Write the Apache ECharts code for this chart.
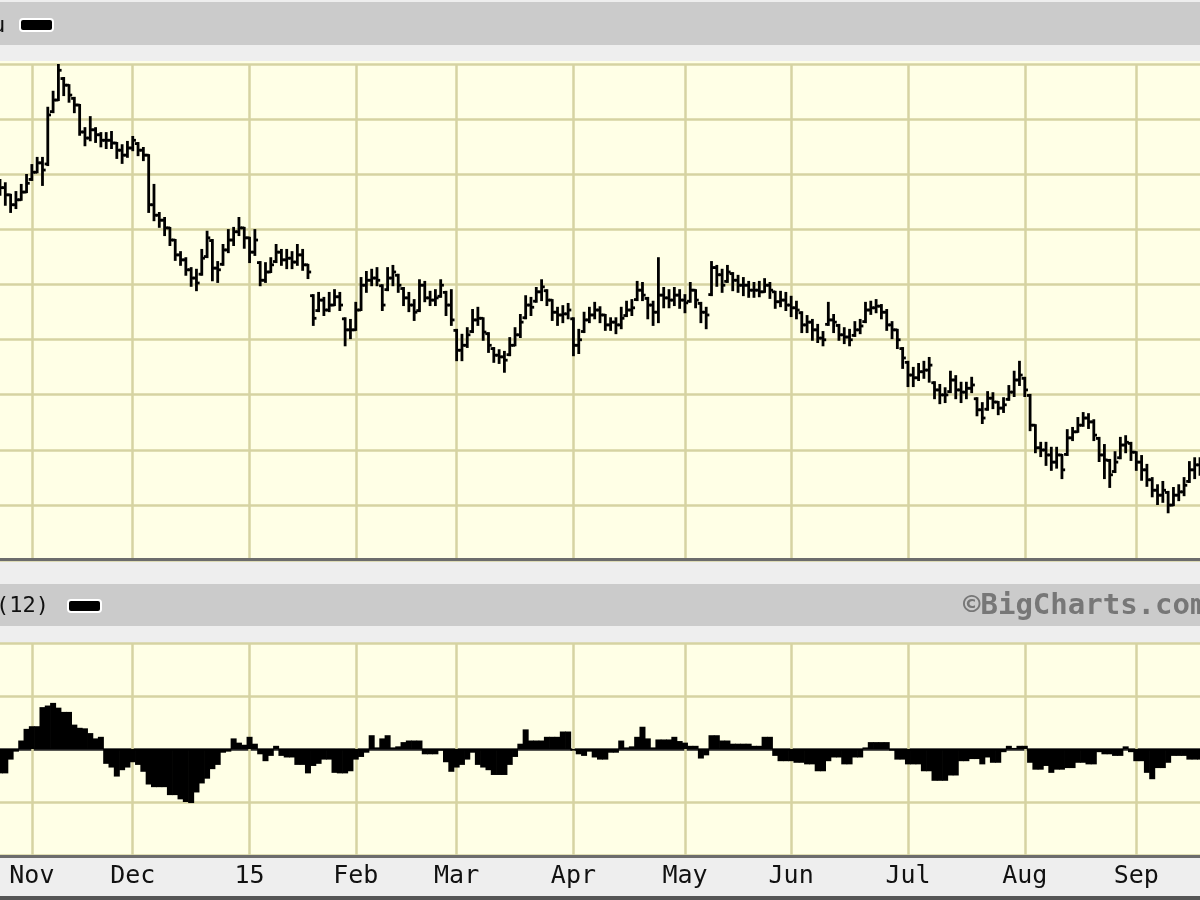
<!DOCTYPE html>
<html>
<head>
<meta charset="utf-8">
<script src="https://cdn.jsdelivr.net/npm/echarts@6/dist/echarts.min.js"></script>
<style>
html,body{margin:0;padding:0;background:#EEEEEE;}
#chart{width:1200px;height:900px;}
</style>
</head>
<body>
<div id="chart"></div>
<script>
// ---- categories: trading days (NYSE) starting 2014-10-24 ----
const firstDay = '2014-10-24';
const dayCount = 227;
const holidays = ['2014-11-27','2014-12-25','2015-01-01','2015-01-19','2015-02-16',
                  '2015-04-03','2015-05-25','2015-07-03','2015-09-07'];
const tickLabels = ['Nov','Dec','15','Feb','Mar','Apr','May','Jun','Jul','Aug','Sep'];

// ---- price bars (arbitrary price units) ----
const openVals = [107.7,107.2,105.9,104.1,105.0,106.4,108.7,110.0,111.7,
111.5,121.0,123.1,127.0,125.8,123.4,122.2,117.3,116.2,117.7,
116.8,115.8,115.8,115.3,114.0,113.1,114.4,115.2,114.0,113.1,
104.1,102.2,101.3,99.9,97.7,95.0,94.1,92.3,90.8,91.5,
94.7,97.6,92.6,93.3,95.9,97.7,99.2,99.9,98.1,95.5,
93.6,90.4,91.9,93.8,95.5,94.1,94.4,93.7,95.0,93.2,
87.6,84.9,86.8,85.0,85.9,87.4,83.4,81.4,81.4,85.0,
89.5,90.4,90.8,89.4,88.7,90.8,91.3,88.9,87.2,85.9,
84.9,89.5,87.2,86.8,87.5,88.2,85.9,81.3,77.7,78.6,
81.1,83.2,83.5,80.7,78.0,76.8,76.5,76.9,78.6,80.5,
83.6,85.9,86.6,88.3,88.5,86.8,84.6,84.1,84.3,83.4,
78.6,81.1,83.2,84.1,85.0,84.1,82.3,82.8,82.3,84.0,
85.0,86.9,88.6,87.1,85.9,84.6,87.7,87.2,86.8,87.7,
86.8,86.6,88.6,86.2,84.6,87.8,92.7,91.4,90.2,91.6,
90.4,89.5,89.5,88.6,88.6,88.3,89.5,88.3,86.5,86.8,
85.9,85.4,84.5,82.3,82.8,81.4,79.9,82.4,83.2,82.2,
80.5,80.1,80.4,81.4,82.9,85.0,85.4,85.7,84.6,82.3,
81.4,78.0,75.5,73.2,72.7,73.8,74.1,71.8,70.5,69.6,
70.2,72.3,70.5,70.1,70.8,68.9,66.9,67.0,69.0,68.3,
67.2,68.8,70.1,72.3,72.6,69.5,64.1,60.0,59.6,58.7,
57.4,58.7,58.8,61.8,62.9,64.1,65.4,64.7,61.7,58.7,
57.7,55.7,58.2,60.5,60.8,59.2,57.4,56.0,54.2,52.3,
51.4,51.9,49.6,51.4,52.0,53.9,56.0,56.9];

const highVals = [108.6,108.0,105.9,106.4,107.7,109.5,111.3,112.6,112.6,
121.7,124.6,129.5,127.1,125.8,123.5,122.2,118.0,120.0,118.0,
117.1,117.1,117.3,115.3,114.9,115.5,116.4,115.3,114.4,113.1,
107.7,102.6,101.7,99.9,97.7,95.5,94.4,92.6,92.3,95.9,
99.2,97.7,93.7,96.8,99.5,99.9,101.7,99.9,98.1,99.5,
93.7,93.5,94.4,96.8,95.9,95.9,95.5,96.8,95.9,93.2,
87.7,88.1,87.2,88.1,88.6,88.1,83.5,83.2,86.3,90.8,
91.9,92.3,92.6,89.5,92.6,93.0,91.4,89.0,88.1,86.8,
90.4,90.1,88.3,88.6,90.4,88.3,88.6,81.4,80.5,81.7,
85.0,85.4,83.5,80.8,78.1,77.7,77.4,79.9,81.7,84.1,
87.5,87.2,89.0,90.4,88.6,86.8,85.4,85.7,86.1,83.5,
81.4,84.5,85.4,86.3,85.5,84.1,83.5,83.5,85.4,86.5,
86.8,90.1,89.9,87.2,86.5,94.4,89.0,88.6,89.0,88.6,
87.7,89.9,88.6,86.3,85.4,93.7,93.0,92.3,93.0,91.7,
91.2,90.8,90.1,89.9,90.1,90.6,89.9,88.3,88.3,88.1,
87.4,86.5,84.6,83.9,83.2,82.3,81.0,86.3,84.1,82.3,
81.7,81.4,82.8,83.2,86.3,86.5,86.8,85.9,85.0,82.8,
81.4,78.1,75.6,74.5,75.2,75.6,76.3,71.9,71.4,70.8,
73.8,73.0,71.8,71.8,72.7,69.0,68.1,70.1,69.9,68.3,
69.0,71.2,73.8,75.6,72.7,69.6,64.1,60.9,60.9,60.0,
60.0,58.7,63.2,63.6,65.4,66.3,66.1,65.0,61.8,60.5,
57.8,59.2,61.8,62.1,60.9,59.2,58.5,56.9,54.5,53.2,
53.8,52.0,52.7,53.2,54.5,57.4,58.1,58.1];

const lowVals = [105.9,104.1,102.8,103.5,105.0,106.4,108.6,110.0,107.7,
111.3,120.9,123.1,124.0,122.8,120.9,116.8,114.9,115.8,115.5,
114.7,114.4,114.4,112.6,111.7,112.8,114.0,113.1,112.2,102.8,
101.3,100.1,98.6,96.8,94.1,93.2,91.4,89.4,88.6,91.4,
94.6,90.4,90.1,93.2,95.5,96.8,98.6,96.3,93.7,95.0,
89.5,90.1,91.9,93.7,93.2,92.6,92.6,93.2,92.3,90.8,
82.3,84.8,84.1,84.8,85.9,85.0,78.6,79.9,81.4,85.0,
88.3,89.5,89.5,85.0,88.6,89.5,88.3,85.9,84.8,83.2,
84.8,86.6,85.9,85.9,87.4,84.1,82.3,75.9,75.9,78.3,
81.0,82.3,79.6,77.4,75.6,75.4,73.8,76.8,78.6,80.1,
83.5,84.1,86.5,86.8,85.9,83.2,82.3,82.8,83.5,76.8,
77.2,81.0,82.8,83.5,82.8,81.4,81.4,80.8,81.7,83.9,
84.1,86.8,86.8,83.5,82.3,82.8,85.5,85.5,85.9,85.4,
84.6,86.5,85.5,82.8,81.7,87.7,89.4,88.3,90.1,88.6,
88.3,87.7,87.4,87.4,87.5,88.3,87.2,85.4,85.7,85.0,
83.9,83.5,81.0,81.0,79.6,79.2,78.6,82.3,81.0,79.6,
79.0,78.6,80.3,80.8,82.8,84.3,84.6,83.5,81.4,79.9,
78.1,74.5,71.2,71.2,72.3,72.7,72.0,69.0,68.1,68.3,
70.1,69.0,68.3,69.0,70.1,65.9,64.5,66.9,67.2,66.1,
66.5,68.7,69.4,71.4,69.4,63.2,59.2,58.5,56.9,56.0,
56.4,54.5,58.7,61.4,62.9,64.0,63.6,61.4,57.6,54.5,
52.9,55.6,58.1,59.2,57.8,56.0,54.2,53.1,51.2,49.8,
50.2,48.3,49.6,50.5,51.4,53.8,54.5,55.1];

const closeVals = [107.2,105.9,104.1,105.0,106.4,108.0,110.0,111.7,110.4,
120.4,123.1,128.5,125.8,124.0,122.2,117.3,116.2,117.7,116.8,
115.8,115.8,115.3,114.0,113.1,114.4,115.8,114.0,113.1,104.1,
102.2,101.3,99.9,97.7,95.0,94.1,92.3,90.8,89.9,94.4,
98.1,92.6,92.3,95.9,97.7,99.2,99.9,98.1,95.5,97.7,
90.4,91.9,93.2,95.5,94.1,94.4,93.7,95.0,93.2,91.9,
83.5,86.8,85.0,85.9,87.4,85.9,81.4,81.4,85.0,89.5,
90.4,90.8,90.4,85.9,90.8,91.9,89.5,87.2,85.9,84.6,
89.5,87.2,86.8,87.2,89.5,85.9,83.2,77.7,78.6,80.5,
83.2,83.5,81.0,78.6,76.8,76.5,75.9,78.6,80.5,82.8,
85.9,85.5,88.3,89.2,86.8,84.6,84.1,84.3,85.0,78.6,
79.6,83.2,84.1,85.0,84.1,82.3,82.8,82.3,83.5,85.0,
85.4,88.6,87.7,85.9,84.6,87.7,87.2,86.8,87.7,86.8,
86.3,88.6,86.8,84.6,84.1,92.7,91.4,89.5,91.9,90.4,
89.5,89.5,88.6,88.6,88.3,89.5,88.6,86.5,86.8,85.9,
85.4,85.0,82.3,82.8,81.4,79.9,79.6,83.2,82.8,80.5,
80.1,79.6,81.4,82.1,85.0,85.4,85.7,84.6,82.3,81.4,
79.6,76.3,73.2,72.7,73.8,74.1,75.0,70.5,69.6,69.6,
72.3,70.5,70.1,70.8,71.4,66.9,65.4,69.0,68.3,67.2,
67.8,70.1,72.3,73.2,70.5,64.1,60.0,59.6,58.7,57.4,
58.7,56.0,61.8,62.9,64.1,65.4,64.7,62.3,58.7,57.8,
55.1,57.4,60.5,61.0,59.2,57.4,56.0,54.2,52.3,51.4,
52.3,49.6,51.4,52.0,53.2,56.0,56.9,56.9];

// ---- lower indicator (12) ----
const indicatorVals = [-4.6,-4.6,-2.0,-0.5,1.6,3.8,4.3,4.3,7.9,
8.2,8.7,7.8,7.0,7.0,4.6,4.0,3.9,3.0,2.0,
2.3,-2.8,-3.5,-5.2,-4.0,-3.5,-2.5,-3.0,-4.3,-6.7,
-7.2,-7.2,-7.2,-8.7,-8.7,-9.5,-10.0,-10.2,-8.2,-6.5,
-5.6,-3.8,-3.0,-0.7,-0.5,2.0,1.2,0.8,2.3,1.0,
-1.0,-2.3,-1.3,0.6,-1.3,-1.6,-1.6,-3.0,-3.0,-4.6,
-3.2,-2.8,-2.0,-2.0,-4.5,-4.6,-4.6,-4.2,-2.0,-1.5,
-0.7,2.6,0.3,2.0,2.6,0.3,0.5,1.3,1.6,1.6,
1.6,-1.0,-1.0,-1.0,-0.3,-2.5,-4.3,-3.5,-3.0,-2.0,
-0.7,-3.0,-3.5,-4.0,-4.9,-4.9,-4.9,-3.0,-1.5,1.0,
3.7,1.6,1.6,1.6,2.3,2.3,2.3,3.3,3.3,-0.3,
-1.0,-1.3,-0.5,-1.6,-2.0,-2.0,-0.7,-0.7,1.6,0.3,
0.5,2.3,4.2,2.0,0.3,1.8,1.8,1.8,2.3,1.5,
1.2,0.6,0.6,-1.8,-1.2,2.6,2.6,1.6,1.6,1.0,
1.0,1.0,1.0,0.6,0.6,2.3,2.3,-1.3,-2.3,-2.3,
-2.3,-2.6,-2.6,-2.9,-2.9,-4.2,-4.2,-2.3,-1.6,-1.6,
-2.9,-2.9,-1.6,-1.6,0.3,1.3,1.3,1.3,1.3,-0.3,
-2.0,-2.0,-2.9,-2.9,-2.9,-4.2,-4.2,-6.0,-6.0,-6.0,
-5.0,-5.0,-2.3,-2.3,-1.9,-1.9,-2.9,-1.6,-2.6,-2.6,
-0.6,0.6,0.2,0.6,0.6,-2.6,-3.9,-3.9,-3.2,-4.5,
-3.9,-3.9,-3.6,-3.6,-2.6,-2.6,-2.9,-2.9,-0.6,-1.0,
-1.0,-1.3,-1.3,0.5,-0.6,-2.3,-2.3,-4.5,-5.7,-3.6,
-3.6,-2.6,-1.3,-1.3,-1.3,-2.0,-2.0,-2.0];

// ---- build categories ----
function tradingDays(start, count, hol) {
  const out = [];
  const d = new Date(start + 'T00:00:00Z');
  while (out.length < count) {
    const dow = d.getUTCDay();
    const s = d.toISOString().slice(0, 10);
    if (dow !== 0 && dow !== 6 && hol.indexOf(s) < 0) out.push(s);
    d.setUTCDate(d.getUTCDate() + 1);
  }
  return out;
}
const dates = tradingDays(firstDay, dayCount, holidays);
const monthStart = {};
let k = 0;
for (let i = 1; i < dates.length; i++) {
  if (dates[i].slice(5, 7) !== dates[i - 1].slice(5, 7)) {
    monthStart[i] = tickLabels[k++] || '';
  }
}
const isMonthStart = (idx) => Object.prototype.hasOwnProperty.call(monthStart, idx);

const ohlc = dates.map((d, i) => [i, openVals[i], highVals[i], lowVals[i], closeVals[i]]);

// ---- style constants ----
const PLOT_BG = '#FFFFE6';
const GRID_C = '#D6D3A2';
const HEAD_C = '#CBCBCB';
const DARK_C = '#6C6C6C';
const MONO = "'DejaVu Sans Mono', 'Liberation Mono', monospace";

function renderOHLC(params, api) {
  const i = api.value(0);
  const pO = api.coord([i, api.value(1)]);
  const pH = api.coord([i, api.value(2)]);
  const pL = api.coord([i, api.value(3)]);
  const pC = api.coord([i, api.value(4)]);
  const w = api.size([1, 0])[0] * 0.6;
  const style = { stroke: '#000', lineWidth: 2.8, fill: null };
  return {
    type: 'group',
    children: [
      { type: 'line', shape: { x1: pH[0], y1: pH[1] - 1, x2: pL[0], y2: pL[1] + 1 }, style: style },
      { type: 'line', shape: { x1: pO[0] - w, y1: pO[1], x2: pO[0], y2: pO[1] }, style: style },
      { type: 'line', shape: { x1: pC[0], y1: pC[1], x2: pC[0] + w, y2: pC[1] }, style: style }
    ]
  };
}

const chart = echarts.init(document.getElementById('chart'), null, { renderer: 'canvas', width: 1200, height: 900 });

const xCommon = {
  type: 'category',
  data: dates,
  boundaryGap: false,
  axisLine: { show: false },
  axisTick: { show: false },
  splitLine: { show: true, interval: (idx) => isMonthStart(idx), lineStyle: { color: GRID_C, width: 2.5 } }
};

chart.setOption({
  backgroundColor: '#EEEEEE',
  animation: false,
  grid: [
    { left: 0, right: 0, top: 64, height: 496, show: true, backgroundColor: PLOT_BG, borderWidth: 0 },
    { left: 0, right: 0, top: 643, height: 212, show: true, backgroundColor: PLOT_BG, borderWidth: 0 }
  ],
  xAxis: [
    Object.assign({}, xCommon, { gridIndex: 0, axisLabel: { show: false } }),
    Object.assign({}, xCommon, {
      gridIndex: 1,
      position: 'bottom',
      axisLabel: {
        show: true,
        interval: (idx) => isMonthStart(idx),
        formatter: (val, idx) => monthStart[idx] || '',
        fontFamily: MONO,
        fontSize: 25,
        color: '#111',
        margin: 21,
        verticalAlign: 'middle'
      }
    })
  ],
  yAxis: [
    {
      type: 'value', gridIndex: 0, min: 39.64, max: 129.64, interval: 10,
      axisLine: { show: false }, axisTick: { show: false }, axisLabel: { show: false },
      splitLine: { show: true, lineStyle: { color: GRID_C, width: 2.5 } }
    },
    {
      type: 'value', gridIndex: 1, min: -20, max: 20, interval: 10,
      axisLine: { show: false }, axisTick: { show: false }, axisLabel: { show: false },
      splitLine: { show: true, lineStyle: { color: [GRID_C, GRID_C, '#222222', GRID_C, GRID_C], width: 2.5 } }
    }
  ],
  series: [
    {
      type: 'custom',
      xAxisIndex: 0, yAxisIndex: 0,
      renderItem: renderOHLC,
      encode: { x: 0, y: [1, 2, 3, 4] },
      data: ohlc,
      clip: true,
      z: 3
    },
    {
      type: 'bar',
      xAxisIndex: 1, yAxisIndex: 1,
      data: indicatorVals,
      barWidth: 6,
      itemStyle: { color: '#000' },
      z: 3
    }
  ],
  graphic: [
    { type: 'rect', shape: { x: 0, y: 2, width: 1200, height: 43 }, style: { fill: HEAD_C }, z: 1 },
    { type: 'rect', shape: { x: 0, y: 61, width: 1200, height: 4 }, style: { fill: PLOT_BG }, z: -1 },
    { type: 'text', x: -8, y: 26, style: { text: 'u', font: '22px ' + MONO, fill: '#111', verticalAlign: 'middle' }, z: 5 },
    { type: 'rect', shape: { x: 20, y: 19, width: 33, height: 12, r: 3 }, style: { fill: '#000', stroke: '#fff', lineWidth: 2 }, z: 5 },
    { type: 'rect', shape: { x: 0, y: 558, width: 1200, height: 3 }, style: { fill: DARK_C }, z: 10 },
    { type: 'rect', shape: { x: 0, y: 584, width: 1200, height: 42 }, style: { fill: HEAD_C }, z: 1 },
    { type: 'text', x: -4, y: 606, style: { text: '(12)', font: '22px ' + MONO, fill: '#111', verticalAlign: 'middle' }, z: 5 },
    { type: 'rect', shape: { x: 68, y: 600, width: 33, height: 12, r: 3 }, style: { fill: '#000', stroke: '#fff', lineWidth: 2 }, z: 5 },
    { type: 'text', x: 963, y: 606, style: { text: '©BigCharts.com', font: 'bold 29px ' + MONO, fill: '#777777', verticalAlign: 'middle' }, z: 5 },
    { type: 'rect', shape: { x: 0, y: 855, width: 1200, height: 3 }, style: { fill: DARK_C }, z: 10 },
    { type: 'rect', shape: { x: 0, y: 896, width: 1200, height: 4 }, style: { fill: '#555555' }, z: 10 }
  ]
});
</script>
</body>
</html>
